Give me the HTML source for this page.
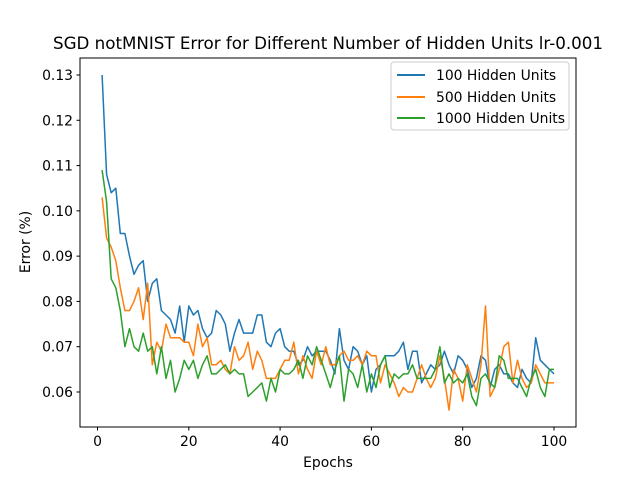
<!DOCTYPE html>
<html><head><meta charset="utf-8"><style>
body{margin:0;background:#fff}
text{font-family:"DejaVu Sans","Liberation Sans",sans-serif;fill:#000}
</style></head><body>
<svg id="chart" width="640" height="480" xmlns="http://www.w3.org/2000/svg">
<rect width="640" height="480" fill="#fff"/>
<text x="328" y="49" text-anchor="middle" font-size="16.7">SGD notMNIST Error for Different Number of Hidden Units lr-0.001</text>
<g id="plot"></g>
<rect x="80" y="58" width="496" height="369" fill="none" stroke="#000" stroke-width="1"/>
<text x="328" y="467" text-anchor="middle" font-size="13.9">Epochs</text>
<text transform="translate(30,242) rotate(-90)" text-anchor="middle" font-size="13.9">Error (%)</text>
<g>
<rect x="391" y="62" width="178" height="68" rx="3" fill="#fff" fill-opacity="0.8" stroke="#ccc"/>
<g><line x1="397" y1="75" x2="425" y2="75" stroke="#1f77b4" stroke-width="2"/><text x="436" y="80" font-size="13.9">100 Hidden Units</text></g>
<g><line x1="397" y1="97" x2="425" y2="97" stroke="#ff7f0e" stroke-width="2"/><text x="436" y="102" font-size="13.9">500 Hidden Units</text></g>
<g><line x1="397" y1="118" x2="425" y2="118" stroke="#2ca02c" stroke-width="2"/><text x="436" y="123" font-size="13.9">1000 Hidden Units</text></g>
</g>
</svg>
<script>
const xTicks=[0,20,40,60,80,100];
const yTicks=[0.06,0.07,0.08,0.09,0.10,0.11,0.12,0.13];
const yTickLabels=["0.06","0.07","0.08","0.09","0.10","0.11","0.12","0.13"];
const s100=[.130,.108,.104,.105,.095,.095,.090,.086,.088,.089,.080,.084,.085,.078,.077,.076,.073,.079,.071,.079,.077,.078,.074,.072,.073,.078,.077,.075,.069,.073,.076,.073,.073,.073,.077,.077,.071,.070,.073,.074,.070,.069,.069,.066,.067,.070,.068,.069,.069,.069,.067,.064,.074,.067,.065,.070,.069,.066,.068,.060,.065,.066,.068,.068,.068,.069,.071,.065,.069,.069,.062,.064,.066,.065,.066,.069,.066,.064,.068,.067,.065,.061,.063,.068,.067,.061,.065,.066,.064,.064,.062,.061,.065,.063,.062,.072,.067,.066,.065,.064];
const s500=[.103,.094,.092,.089,.083,.078,.078,.080,.083,.076,.084,.066,.071,.069,.075,.072,.072,.072,.071,.071,.068,.075,.070,.072,.066,.066,.067,.065,.064,.070,.067,.068,.071,.065,.069,.067,.063,.063,.063,.065,.067,.067,.071,.064,.068,.065,.063,.069,.066,.070,.066,.066,.068,.069,.067,.067,.068,.066,.069,.068,.068,.062,.066,.064,.062,.059,.061,.060,.060,.063,.066,.063,.061,.063,.068,.063,.056,.065,.063,.058,.066,.063,.060,.066,.079,.059,.061,.065,.070,.071,.062,.067,.063,.061,.062,.066,.064,.062,.062,.062];
const s1000=[.109,.102,.085,.083,.078,.070,.074,.070,.069,.073,.069,.070,.064,.070,.063,.067,.060,.063,.067,.065,.067,.063,.066,.068,.064,.064,.065,.066,.064,.065,.064,.064,.059,.060,.061,.062,.058,.063,.060,.065,.064,.064,.065,.067,.063,.068,.066,.070,.067,.064,.061,.065,.068,.058,.065,.064,.061,.066,.060,.064,.061,.066,.068,.061,.064,.063,.064,.064,.066,.063,.063,.063,.063,.065,.070,.062,.064,.062,.063,.062,.064,.059,.057,.063,.064,.062,.061,.068,.067,.063,.063,.063,.061,.059,.063,.065,.061,.059,.065,.065];
const seriesNames=["100-hidden-units","500-hidden-units","1000-hidden-units"];
const colors=["#1f77b4","#ff7f0e","#2ca02c"];
const NS="http://www.w3.org/2000/svg";
function xs(v){return 97.5+v*4.565;}
function ys(v){return 392-(v-0.06)*4528.6;}
const plot=document.getElementById('plot');
xTicks.forEach(t=>{
  const l=document.createElementNS(NS,'line');
  l.setAttribute('x1',xs(t));l.setAttribute('x2',xs(t));l.setAttribute('y1',427);l.setAttribute('y2',430.5);l.setAttribute('stroke','#000');
  
  
  plot.appendChild(l);
  const tx=document.createElementNS(NS,'text');
  tx.setAttribute('x',xs(t));tx.setAttribute('y',446);tx.setAttribute('text-anchor','middle');tx.setAttribute('font-size','13.9');
  tx.textContent=t;
  
  
  plot.appendChild(tx);
});
yTicks.forEach((t,i)=>{
  const l=document.createElementNS(NS,'line');
  l.setAttribute('x1',76.5);l.setAttribute('x2',80);l.setAttribute('y1',ys(t));l.setAttribute('y2',ys(t));l.setAttribute('stroke','#000');
  
  
  plot.appendChild(l);
  const tx=document.createElementNS(NS,'text');
  tx.setAttribute('x',73);tx.setAttribute('y',ys(t)+5);tx.setAttribute('text-anchor','end');tx.setAttribute('font-size','13.9');
  tx.textContent=yTickLabels[i];
  
  
  plot.appendChild(tx);
});
[s100,s500,s1000].forEach((s,k)=>{
  const p=document.createElementNS(NS,'polyline');
  p.setAttribute('points',s.map((v,i)=>xs(i+1).toFixed(1)+','+ys(v).toFixed(1)).join(' '));
  p.setAttribute('fill','none');p.setAttribute('stroke',colors[k]);p.setAttribute('stroke-width','1.5');p.setAttribute('stroke-linejoin','round');
  
  
  plot.appendChild(p);
});
</script>
</body></html>
